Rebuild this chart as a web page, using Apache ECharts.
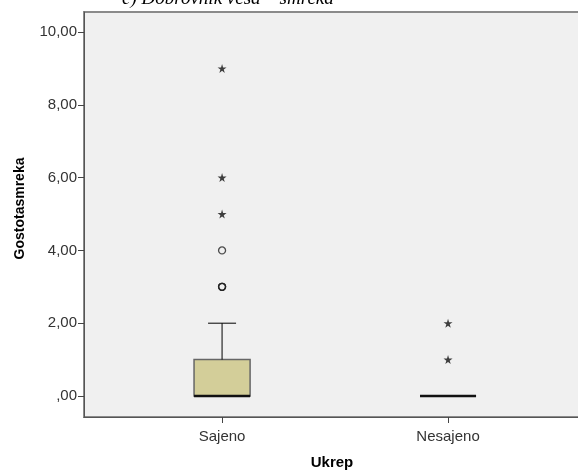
<!DOCTYPE html>
<html>
<head>
<meta charset="utf-8">
<script src="https://cdn.jsdelivr.net/npm/echarts@6/dist/echarts.min.js"></script>
<style>
  html, body { margin: 0; padding: 0; background: #fff; }
  #box { width: 578px; height: 471px; }
</style>
</head>
<body>
<div id="box"></div>
<script>
// groups on the x axis (1 = Sajeno, 2 = Nesajeno)
var groups = ['Sajeno', 'Nesajeno'];
// [x, min, q1, median, q3, max]
var boxStats = [
    [1, 0, 0, 0, 1, 2],
    [2, 0, 0, 0, 0, 0]
];
// mild outliers (circles) and extremes (stars)
var outliers = [[1, 3], [1, 3], [1, 3], [1, 4]];
var extremes = [[1, 5], [1, 6], [1, 9], [2, 1], [2, 2]];
var yTicks = [0, 2, 4, 6, 8, 10];

var myChart = echarts.init(document.getElementById('box'));

var star = 'path://M50,0 L61,35 L98,35 L68,57 L79,91 L50,70 L21,91 L32,57 L2,35 L39,35 Z';

option = {
    animation: false,
    title: {
        text: 'c) Dobrovnik vesa – smreka',
        left: 117,
        top: -16,
        textStyle: {
            fontFamily: 'Liberation Serif',
            fontStyle: 'italic',
            fontWeight: 'normal',
            fontSize: 19,
            color: '#000'
        }
    },
    grid: {
        left: 84,
        right: -2,
        top: 12,
        bottom: 54,
        outerBoundsMode: 'none',
        containLabel: false,
        show: true,
        backgroundColor: '#f0f0f0',
        borderColor: '#8a8a8a',
        borderWidth: 2
    },
    xAxis: {
        type: 'value',
        min: 0.389,
        max: 2.584,
        name: 'Ukrep',
        nameLocation: 'middle',
        nameGap: 38,
        nameTextStyle: { fontFamily: 'Liberation Sans', fontWeight: 'bold', fontSize: 15, color: '#000' },
        splitLine: { show: false },
        axisLine: { onZero: false, lineStyle: { color: '#555', width: 1 } },
        axisTick: { length: 6, lineStyle: { color: '#444' }, customValues: [1, 2] },
        axisLabel: {
            customValues: [1, 2],
            margin: 12,
            fontFamily: 'Liberation Sans',
            fontSize: 15,
            color: '#333',
            formatter: function (v) { return groups[Math.round(v) - 1] || ''; }
        }
    },
    yAxis: {
        type: 'value',
        min: -0.577,
        max: 10.55,
        name: 'Gostotasmreka',
        nameLocation: 'middle',
        nameGap: 57,
        nameTextStyle: { fontFamily: 'Liberation Sans', fontWeight: 'bold', fontSize: 14, color: '#000', padding: [0, 0, 0, 12] },
        splitLine: { show: false },
        axisLine: { show: true, onZero: false, lineStyle: { color: '#555', width: 1 } },
        axisTick: { show: true, length: 6, lineStyle: { color: '#444' }, customValues: yTicks },
        axisLabel: {
            customValues: yTicks,
            margin: 7,
            fontFamily: 'Liberation Sans',
            fontSize: 15,
            color: '#333',
            formatter: function (v) { return v === 0 ? ',00' : v.toFixed(2).replace('.', ','); }
        }
    },
    series: [
        {
            type: 'custom',
            data: boxStats,
            renderItem: function (params, api) {
                var x = api.value(0);
                var cx = api.coord([x, 0])[0];
                var hw = api.size([0.248, 0])[0] / 2;
                var cw = api.size([0.124, 0])[0] / 2;
                var yMin = api.coord([x, api.value(1)])[1];
                var yQ1 = api.coord([x, api.value(2)])[1];
                var yMed = api.coord([x, api.value(3)])[1];
                var yQ3 = api.coord([x, api.value(4)])[1];
                var yMax = api.coord([x, api.value(5)])[1];
                var children = [];
                if (yQ1 - yQ3 > 0.5) {
                    children.push({
                        type: 'rect',
                        shape: { x: cx - hw, y: yQ3, width: hw * 2, height: yQ1 - yQ3 },
                        style: { fill: '#d3ce99', stroke: '#666', lineWidth: 1.5 }
                    });
                }
                if (yQ3 - yMax > 0.5) {
                    children.push({
                        type: 'line',
                        shape: { x1: cx, y1: yQ3, x2: cx, y2: yMax },
                        style: { stroke: '#000', lineWidth: 1 }
                    });
                    children.push({
                        type: 'line',
                        shape: { x1: cx - cw, y1: yMax, x2: cx + cw, y2: yMax },
                        style: { stroke: '#000', lineWidth: 1 }
                    });
                }
                if (yMin - yQ1 > 0.5) {
                    children.push({
                        type: 'line',
                        shape: { x1: cx, y1: yQ1, x2: cx, y2: yMin },
                        style: { stroke: '#000', lineWidth: 1 }
                    });
                    children.push({
                        type: 'line',
                        shape: { x1: cx - cw, y1: yMin, x2: cx + cw, y2: yMin },
                        style: { stroke: '#000', lineWidth: 1 }
                    });
                }
                children.push({
                    type: 'line',
                    shape: { x1: cx - hw, y1: yMed, x2: cx + hw, y2: yMed },
                    style: { stroke: '#111', lineWidth: 2.5 }
                });
                return { type: 'group', children: children };
            }
        },
        {
            type: 'scatter',
            data: outliers,
            symbol: 'circle',
            symbolSize: 7,
            itemStyle: { color: 'rgba(0,0,0,0)', borderColor: '#222', borderWidth: 1.3 }
        },
        {
            type: 'scatter',
            data: extremes,
            symbol: star,
            symbolSize: 9,
            itemStyle: { color: '#111' }
        }
    ]
};

myChart.setOption(option);
</script>
</body>
</html>
